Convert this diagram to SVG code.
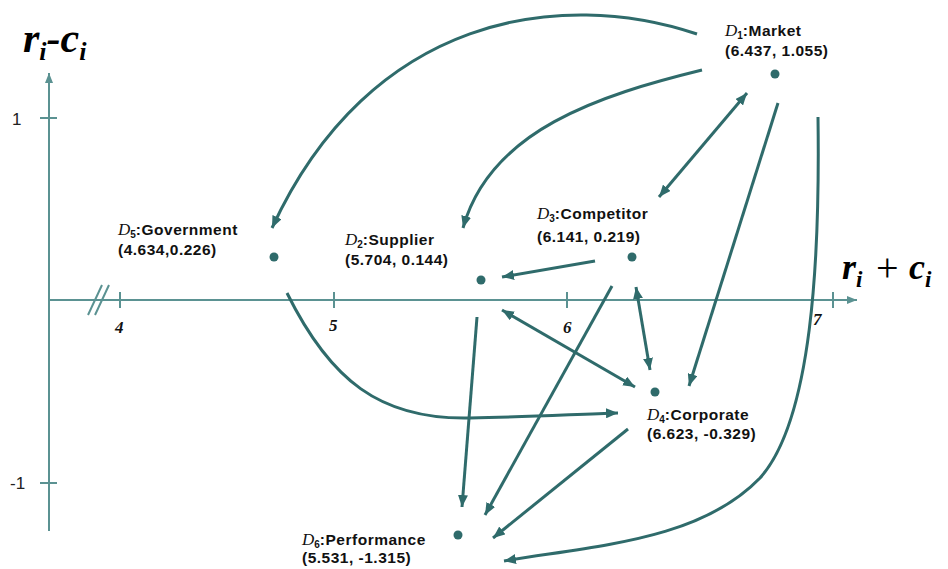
<svg xmlns="http://www.w3.org/2000/svg" width="948" height="569" viewBox="0 0 948 569">
<style>
.axis{stroke:#5b9292;stroke-width:2;fill:none}
.conn{stroke:#2f6b6b;stroke-width:3;fill:none}
.dot{fill:#2f6b6b}
.lbl{font-family:"Liberation Sans",Arial,sans-serif;font-weight:bold;font-size:15.5px;fill:#111;letter-spacing:0.5px}
.dd{font-family:"Liberation Serif","Times New Roman",serif;font-style:italic;font-weight:normal;font-size:17px;letter-spacing:0}
.sub{font-size:10px;letter-spacing:0}
.tick{font-family:"Liberation Serif","Times New Roman",serif;font-style:italic;font-weight:bold;font-size:17px;fill:#111}
.num{font-family:"Liberation Sans",Arial,sans-serif;font-size:17px;fill:#222}
.big{font-family:"Liberation Serif","Times New Roman",serif;font-style:italic;font-weight:bold;fill:#000}
</style>
<defs>
<marker id="ah" viewBox="0 0 12 10" refX="12" refY="5" markerWidth="12" markerHeight="10" markerUnits="userSpaceOnUse" orient="auto-start-reverse">
<path d="M0,0 L12,5 L0,10 z" fill="#2f6b6b"/>
</marker>
<marker id="axh" viewBox="0 0 10 8" refX="10" refY="4" markerWidth="10" markerHeight="8" markerUnits="userSpaceOnUse" orient="auto">
<path d="M0,0 L10,4 L0,8 z" fill="#5b9292"/>
</marker>
</defs>

<g id="axes">
<line class="axis" x1="49" y1="531" x2="49" y2="73" marker-end="url(#axh)"/>
<line class="axis" x1="49" y1="300" x2="857" y2="300" marker-end="url(#axh)"/>
<line class="axis" x1="40" y1="118" x2="57" y2="118"/>
<line class="axis" x1="40" y1="483" x2="57" y2="483"/>
<line class="axis" x1="120" y1="292" x2="120" y2="308"/>
<line class="axis" x1="334" y1="292" x2="334" y2="308"/>
<line class="axis" x1="567" y1="292" x2="567" y2="308"/>
<line class="axis" x1="833" y1="292" x2="833" y2="308"/>
<line class="axis" x1="88" y1="315" x2="102" y2="285" stroke-width="1.5"/>
<line class="axis" x1="95" y1="315" x2="109" y2="285" stroke-width="1.5"/>
<text class="num" x="12" y="125">1</text>
<text class="num" x="10" y="489">-1</text>
<text class="tick" x="115" y="333">4</text>
<text class="tick" x="329" y="331">5</text>
<text class="tick" x="563" y="333">6</text>
<text class="tick" x="813" y="325">7</text>
<text class="big" x="23" y="52" font-size="42">r<tspan font-size="26" dy="8">i</tspan><tspan dy="-8">-c</tspan><tspan font-size="26" dy="8">i</tspan></text>
<text class="big" x="842" y="279" font-size="36">r<tspan font-size="23" dy="8">i</tspan></text>
<text x="876" y="281" font-family="Liberation Serif,serif" font-size="40" fill="#000">+</text>
<text class="big" x="909" y="279" font-size="36">c<tspan font-size="23" dy="8">i</tspan></text>
</g>

<g id="connectors">
<path class="conn" d="M697,34 C560,-12 370,15 272,228" marker-end="url(#ah)"/>
<path class="conn" d="M702,70 C600,95 490,130 463,228" marker-end="url(#ah)"/>
<line class="conn" x1="659" y1="197" x2="747" y2="93" marker-start="url(#ah)" marker-end="url(#ah)"/>
<line class="conn" x1="778" y1="103" x2="689" y2="386" marker-end="url(#ah)"/>
<path class="conn" d="M818,117 C820,260 812,420 760,478 C700,540 600,545 504,561" marker-end="url(#ah)"/>
<line class="conn" x1="595" y1="261" x2="502" y2="277" marker-end="url(#ah)"/>
<line class="conn" x1="636" y1="287" x2="650" y2="370" marker-start="url(#ah)" marker-end="url(#ah)"/>
<line class="conn" x1="612" y1="286" x2="485" y2="515" marker-end="url(#ah)"/>
<line class="conn" x1="502" y1="310" x2="635" y2="387" marker-start="url(#ah)" marker-end="url(#ah)"/>
<line class="conn" x1="477" y1="317" x2="462" y2="507" marker-end="url(#ah)"/>
<path class="conn" d="M287,293 C330,380 380,420 470,418 C530,417 580,414 618,413" marker-end="url(#ah)"/>
<line class="conn" x1="628" y1="429" x2="493" y2="538" marker-end="url(#ah)"/>
</g>

<g id="market">
<circle class="dot" cx="775" cy="74" r="4.5"/>
<text class="lbl" x="725" y="36"><tspan class="dd">D</tspan><tspan class="sub" dy="3">1</tspan><tspan dy="-3">:Market</tspan></text>
<text class="lbl" x="725" y="56">(6.437, 1.055)</text>
</g>
<g id="government">
<circle class="dot" cx="274" cy="257" r="4.5"/>
<text class="lbl" x="118" y="235"><tspan class="dd">D</tspan><tspan class="sub" dy="3">5</tspan><tspan dy="-3">:Government</tspan></text>
<text class="lbl" x="118" y="255">(4.634,0.226)</text>
</g>
<g id="supplier">
<circle class="dot" cx="481" cy="280" r="4.5"/>
<text class="lbl" x="345" y="245"><tspan class="dd">D</tspan><tspan class="sub" dy="3">2</tspan><tspan dy="-3">:Supplier</tspan></text>
<text class="lbl" x="345" y="265">(5.704, 0.144)</text>
</g>
<g id="competitor">
<circle class="dot" cx="632" cy="257" r="4.5"/>
<text class="lbl" x="537" y="219"><tspan class="dd">D</tspan><tspan class="sub" dy="3">3</tspan><tspan dy="-3">:Competitor</tspan></text>
<text class="lbl" x="537" y="242">(6.141, 0.219)</text>
</g>
<g id="corporate">
<circle class="dot" cx="655" cy="392" r="4.5"/>
<text class="lbl" x="647" y="420"><tspan class="dd">D</tspan><tspan class="sub" dy="3">4</tspan><tspan dy="-3">:Corporate</tspan></text>
<text class="lbl" x="647" y="439">(6.623, -0.329)</text>
</g>
<g id="performance">
<circle class="dot" cx="458" cy="535" r="4.5"/>
<text class="lbl" x="302" y="545"><tspan class="dd">D</tspan><tspan class="sub" dy="3">6</tspan><tspan dy="-3">:Performance</tspan></text>
<text class="lbl" x="302" y="563">(5.531, -1.315)</text>
</g>
</svg>
